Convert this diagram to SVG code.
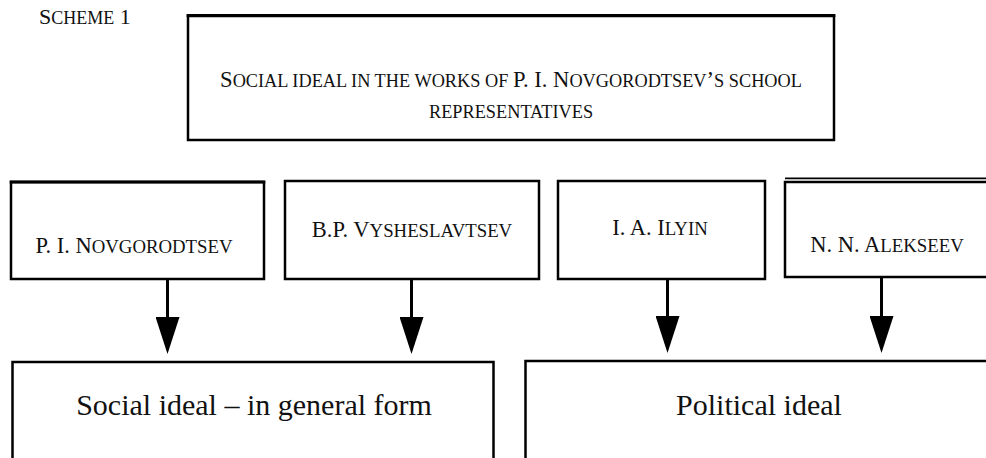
<svg xmlns="http://www.w3.org/2000/svg" width="986" height="458" viewBox="0 0 986 458">
<defs>
<style>
text{font-family:"Liberation Serif","DejaVu Serif",serif;fill:#111}
.t1{font-size:22.6px}.t1 .s{font-size:18.3px}
.nm{font-size:22.5px}.nm .s{font-size:18.8px}
.hd{font-size:22px}.hd .s{font-size:18px}
.big{font-size:30px}
.bx{fill:#fff;stroke:#000;stroke-width:2.5}
.ln{stroke:#000;stroke-width:3}
</style>
<marker id="ah" viewBox="0 0 37 24" refX="4" refY="12" markerWidth="37" markerHeight="24" markerUnits="userSpaceOnUse" orient="auto">
<path d="M0,0 L37,12 L0,24 Z" fill="#000"/>
</marker>
</defs>
<text class="hd" x="39" y="24">S<tspan class="s">CHEME</tspan> 1</text>
<g id="top">
<rect class="bx" x="188" y="16" width="646" height="124" stroke-width="2.8"/>
<line class="ln" x1="186.6" y1="15.5" x2="835.4" y2="15.5" stroke-width="4"/>
<text class="t1" x="511" y="87" text-anchor="middle">S<tspan class="s">OCIAL IDEAL IN THE WORKS OF </tspan>P. I. N<tspan class="s">OVGORODTSEV</tspan>’<tspan class="s">S SCHOOL</tspan></text>
<text class="t1" x="511" y="118" text-anchor="middle"><tspan class="s">REPRESENTATIVES</tspan></text>
</g>
<g id="n1">
<rect class="bx" x="11" y="182" width="253" height="97"/>
<line class="ln" x1="9.7" y1="182" x2="265.3" y2="182" stroke-width="4"/>
<text class="nm" x="134" y="253" text-anchor="middle">P. I. N<tspan class="s">OVGORODTSEV</tspan></text>
</g>
<g id="n2">
<rect class="bx" x="285" y="181" width="254" height="98"/>
<text class="nm" x="412" y="237" text-anchor="middle">B.P. V<tspan class="s">YSHESLAVTSEV</tspan></text>
</g>
<g id="n3">
<rect class="bx" x="558" y="181" width="207" height="98"/>
<text class="nm" x="660" y="235" text-anchor="middle">I. A. I<tspan class="s">LYIN</tspan></text>
</g>
<g id="n4">
<rect class="bx" x="785" y="182" width="210" height="95"/>
<line x1="785" y1="178.3" x2="990" y2="178.3" stroke="#000" stroke-width="1.8"/>
<text class="nm" x="887" y="252" text-anchor="middle">N. N. A<tspan class="s">LEKSEEV</tspan></text>
</g>
<g id="b1">
<rect class="bx" x="12.5" y="362" width="481" height="110" stroke-width="3"/>
<text class="big" x="254" y="415" text-anchor="middle">Social ideal – in general form</text>
</g>
<g id="b2">
<rect class="bx" x="525.5" y="361" width="480" height="110" stroke-width="3"/>
<text class="big" x="759" y="415" text-anchor="middle">Political ideal</text>
</g>
<g id="connectors">
<line class="ln" x1="167.5" y1="280" x2="167.5" y2="321" marker-end="url(#ah)"/>
<line class="ln" x1="411.5" y1="280" x2="411.5" y2="321" marker-end="url(#ah)"/>
<line class="ln" x1="667.5" y1="280" x2="667.5" y2="320" marker-end="url(#ah)"/>
<line class="ln" x1="881.5" y1="278" x2="881.5" y2="320" marker-end="url(#ah)"/>
</g>
</svg>
